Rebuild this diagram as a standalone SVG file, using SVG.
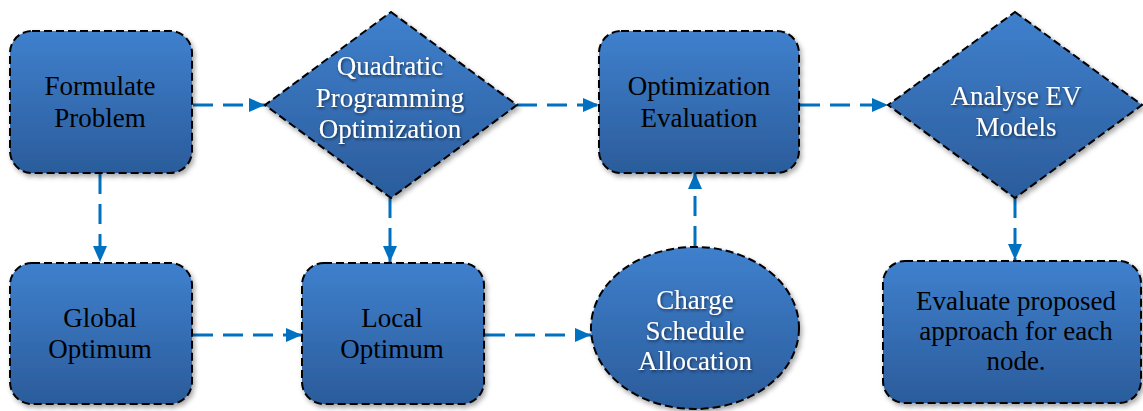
<svg xmlns="http://www.w3.org/2000/svg" width="1143" height="411" viewBox="0 0 1143 411">
<defs>
<linearGradient id="fillGrad" x1="0" y1="0" x2="0" y2="1">
<stop offset="0" stop-color="#3F80CD"/>
<stop offset="1" stop-color="#2B5C9B"/>
</linearGradient>
<filter id="shadow" x="-10%" y="-10%" width="125%" height="125%">
<feDropShadow dx="2" dy="3" stdDeviation="2.5" flood-color="#000" flood-opacity="0.35"/>
</filter>
<filter id="tshadow" x="-10%" y="-20%" width="120%" height="150%">
<feDropShadow dx="1" dy="1.5" stdDeviation="1.5" flood-color="#000" flood-opacity="0.6"/>
</filter>
<marker id="arrow" markerUnits="userSpaceOnUse" markerWidth="16" markerHeight="14" refX="16" refY="7" orient="auto">
<path d="M0,0 L16,7 L0,14 z" fill="#0070C0"/>
</marker>
</defs>
<style>
.shape{fill:url(#fillGrad);stroke:#000;stroke-width:2;stroke-dasharray:8 4;filter:url(#shadow);}
.dark{font-family:"Liberation Serif","Times New Roman",serif;font-size:27px;fill:#000;text-anchor:middle;}
.light{font-family:"Liberation Serif","Times New Roman",serif;font-size:27px;fill:#fff;text-anchor:middle;filter:url(#tshadow);}
.conn{fill:none;stroke:#0070C0;stroke-width:3;stroke-dasharray:20 10;marker-end:url(#arrow);}
</style>
<rect width="1143" height="411" fill="#fff"/>
<g id="connectors">
<line class="conn" x1="193" y1="105" x2="265" y2="105"/>
<line class="conn" x1="517" y1="105" x2="599" y2="105"/>
<line class="conn" x1="800" y1="105" x2="888" y2="105"/>
<line class="conn" x1="100" y1="174" x2="100" y2="262"/>
<line class="conn" x1="390" y1="198" x2="390" y2="262"/>
<line class="conn" x1="1015" y1="198" x2="1015" y2="260"/>
<line class="conn" x1="193" y1="335" x2="302" y2="335"/>
<line class="conn" x1="485" y1="335" x2="591" y2="335"/>
<line class="conn" x1="695" y1="246" x2="695" y2="173"/>
</g>
<g id="formulate">
<rect class="shape" x="10" y="31" width="182" height="142" rx="22"/>
<text class="dark" x="100" y="95">Formulate</text>
<text class="dark" x="100" y="127">Problem</text>
</g>
<g id="quadratic">
<polygon class="shape" points="391,12 517,105 391,198 265,105"/>
<text class="light" x="390" y="75">Quadratic</text>
<text class="light" x="390" y="107">Programming</text>
<text class="light" x="390" y="138">Optimization</text>
</g>
<g id="opteval">
<rect class="shape" x="599" y="31" width="200" height="142" rx="22"/>
<text class="dark" x="699" y="95">Optimization</text>
<text class="dark" x="699" y="127">Evaluation</text>
</g>
<g id="analyse">
<polygon class="shape" points="1015,12 1142,105 1015,198 888,105"/>
<text class="light" x="1016" y="105">Analyse EV</text>
<text class="light" x="1016" y="136">Models</text>
</g>
<g id="global">
<rect class="shape" x="10" y="263" width="182" height="141" rx="22"/>
<text class="dark" x="100" y="327">Global</text>
<text class="dark" x="100" y="358">Optimum</text>
</g>
<g id="local">
<rect class="shape" x="302" y="263" width="182" height="141" rx="22"/>
<text class="dark" x="392" y="327">Local</text>
<text class="dark" x="392" y="358">Optimum</text>
</g>
<g id="charge">
<ellipse class="shape" cx="695" cy="328" rx="104" ry="81"/>
<text class="light" x="695" y="309">Charge</text>
<text class="light" x="695" y="340">Schedule</text>
<text class="light" x="695" y="370">Allocation</text>
</g>
<g id="evaluate">
<rect class="shape" x="883" y="261" width="258" height="142" rx="22"/>
<text class="dark" x="1016" y="310">Evaluate proposed</text>
<text class="dark" x="1016" y="340">approach for each</text>
<text class="dark" x="1016" y="370">node.</text>
</g>
</svg>
